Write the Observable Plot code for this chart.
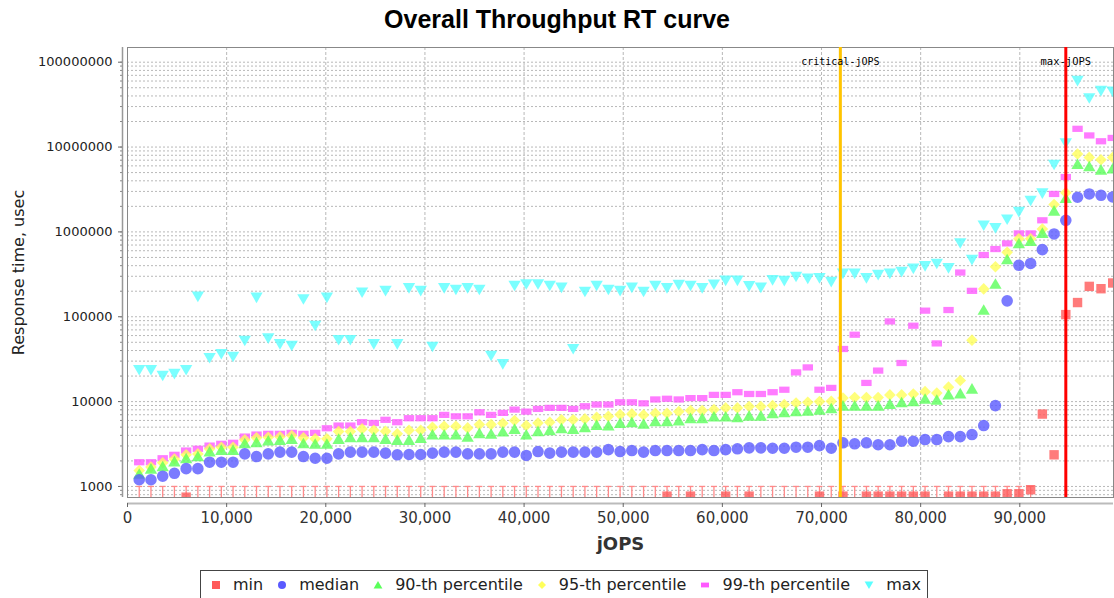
<!DOCTYPE html>
<html><head><meta charset="utf-8">
<script src="https://cdn.jsdelivr.net/npm/d3@7"></script>
<script src="https://cdn.jsdelivr.net/npm/@observablehq/plot@0.6"></script>
<style>
body{margin:0;background:#fff;font-family:"DejaVu Sans",sans-serif;width:1114px;overflow:hidden;}
#title{height:40px;box-sizing:border-box;padding-top:5px;line-height:30px;text-align:center;font:bold 25px "Liberation Sans",Arial,sans-serif;color:#000;}
#legendWrap{display:flex;justify-content:center;margin-top:5px;padding-left:14px;}
#legend{border:1px solid #444;padding:4px 6px 6px 9px;display:flex;align-items:center;font:16px "DejaVu Sans",sans-serif;color:#222;white-space:nowrap;}
#legend .item{display:flex;align-items:center;}
#legend .item + .item{margin-left:13px;}
#legend svg{margin-right:11px;}
</style></head><body>
<div id="title">Overall Throughput RT curve</div>
<div id="chart"></div>
<div id="legendWrap"><div id="legend"></div></div>
<script>
const jops = [1183,2366,3549,4732,5915,7098,8281,9464,10647,11830,13013,14196,15379,16562,17745,18928,20111,21294,22477,23660,24843,26026,27209,28392,29575,30758,31941,33124,34307,35490,36673,37856,39039,40222,41405,42588,43771,44954,46137,47320,48503,49686,50869,52052,53235,54418,55601,56784,57967,59150,60333,61516,62699,63882,65065,66248,67431,68614,69797,70980,72163,73346,74529,75712,76895,78078,79261,80444,81627,82810,83993,85176,86359,87542,88725,89908,91091,92274,93457,94640,95823,97006,98189,99372];

const minRT = [500,500,500,500,748,500,500,500,500,500,500,500,500,500,500,500,500,500,500,500,500,500,500,500,500,500,500,500,500,500,500,500,500,500,500,500,500,500,500,500,500,500,500,500,500,769,500,769,500,500,769,500,769,500,500,500,500,500,769,500,769,500,769,769,769,769,769,769,500,769,769,769,769,769,820,820,915,7130,2360,106000,147000,228000,214000,250000];

const medianRT = [1200,1200,1320,1430,1620,1620,1930,1930,1930,2420,2250,2420,2540,2540,2250,2150,2150,2420,2540,2540,2540,2470,2360,2380,2380,2470,2540,2540,2420,2420,2420,2540,2540,2320,2580,2470,2540,2540,2540,2540,2720,2580,2650,2540,2650,2650,2650,2650,2720,2650,2720,2780,2850,2850,2820,2820,2900,2900,3030,2820,3270,3180,3270,3100,3100,3410,3410,3570,3570,3870,3870,4090,5220,8970,154000,404000,425000,619000,946000,1370000,2560000,2800000,2700000,2580000];

const p90RT = [1410,1620,1730,1970,2150,2270,2580,2700,2700,3230,3330,3480,3540,3640,3230,3180,3180,3640,3800,3800,3800,3640,3540,3540,3740,4090,4090,4090,3870,4240,4170,4440,4770,4090,4480,4600,4850,4770,4990,5320,5220,5610,5720,5470,5860,5860,5980,6370,6370,6670,6670,6540,6840,6840,7290,7480,7690,7830,8050,8340,8970,8970,8970,8970,9400,9820,10100,10800,10500,12100,12500,14200,121000,245000,475000,735000,780000,973000,1780000,2510000,6310000,5930000,5410000,5600000];

const p95RT = [1540,1690,1900,2110,2360,2420,2770,2900,2900,3540,3740,3800,3850,3980,3740,3640,3640,4440,4440,4770,4600,4480,4170,4600,4600,4990,5130,5130,4900,5360,5360,5560,5980,5220,5600,5720,6100,6100,6250,6540,6700,7030,7160,6970,7290,7290,7620,7830,7830,8050,8430,8430,8740,8740,8970,9230,9640,9820,10000,10100,11000,11200,11200,11200,12000,12000,12300,13100,12600,14800,17700,53000,213000,389000,574000,830000,830000,1080000,2100000,2900000,8270000,7550000,7090000,7550000];

const p99RT = [1930,1930,2150,2360,2650,2780,3030,3180,3270,3870,4090,4170,4170,4280,4170,4280,4850,5220,5220,5720,5600,6100,5720,6370,6370,6370,6970,6710,6710,7480,6970,7360,8050,7620,8200,8430,8430,8200,8820,9230,9230,9820,9820,9550,10600,10800,10600,11000,11000,12000,12000,12900,12300,12300,12900,13800,22100,25300,13800,14500,41700,61400,16600,23200,88100,28500,78400,118000,48500,120000,332000,202000,534000,628000,732000,960000,960000,1370000,2800000,4430000,16400000,13700000,11700000,12800000];

const maxRT = [23600,23600,20200,21200,23600,173000,32700,36400,33800,52200,168000,55600,47700,45600,161000,78400,168000,53200,53200,193000,47700,202000,47700,218000,202000,44400,218000,208000,218000,208000,34700,27700,232000,242000,242000,232000,221000,41700,197000,232000,208000,202000,221000,197000,232000,218000,238000,232000,218000,240000,267000,267000,230000,221000,270000,265000,296000,282000,285000,258000,323000,323000,285000,312000,322000,338000,370000,396000,422000,374000,735000,468000,1190000,1110000,1400000,1720000,2330000,2850000,6190000,11100000,60300000,37600000,45900000,45000000];

const seriesNames = ["min","median","90-th percentile","95-th percentile","99-th percentile","max"];
const seriesColors = ["#ff5a5a","#5a5aff","#5aff5a","#ffff5a","#ff5aff","#5affff"];
const xTicks = [0,10000,20000,30000,40000,50000,60000,70000,80000,90000];
const yTicks = [1000,10000,100000,1000000,10000000,100000000];
const xDomain = [0, 99450];
const yDomain = [741, 1.49e8];
const criticalJOPS = 71900;
const maxJOPS = 94640;
const minThreshold = 1000;

const rad = s => Math.sqrt(s / Math.PI);
const sym = {
  square: {draw(c, s){const r = rad(s); c.rect(-r, -r, 2*r, 2*r);}},
  circle: {draw(c, s){const r = rad(s); c.moveTo(r,0); c.arc(0,0,r,0,2*Math.PI);}},
  triUp: {draw(c, s){const r = rad(s); c.moveTo(0,-r); c.lineTo(r*1.1, r*0.9); c.lineTo(-r*1.1, r*0.9); c.closePath();}},
  diamond: {draw(c, s){const r = rad(s); c.moveTo(0,-r); c.lineTo(r,0); c.lineTo(0,r); c.lineTo(-r,0); c.closePath();}},
  hrect: {draw(c, s){const r = rad(s); c.rect(-r, -r*0.6, 2*r, 1.2*r);}},
  triDown: {draw(c, s){const r = rad(s); c.moveTo(0,r); c.lineTo(r*1.1, -r*0.9); c.lineTo(-r*1.1, -r*0.9); c.closePath();}},
  cap: {draw(c, s){const r = rad(s); c.moveTo(-r,0); c.lineTo(r,0);}}
};
const seriesSymbols = [sym.square, sym.circle, sym.triUp, sym.diamond, sym.hrect, sym.triDown];
const seriesR = [4.7, 5.8, 5.6, 5.8, 5.2, 5.6];
const seriesValues = [minRT, medianRT, p90RT, p95RT, p99RT, maxRT];

const toRows = vals => jops.map((x, i) => ({jops: x, rt: vals[i]}));
const minorTicks = d3.scaleLog().domain(yDomain).ticks();

const dotMarks = [];
for (let s = seriesValues.length - 1; s >= 0; s--) {
  dotMarks.push(Plot.dot(toRows(seriesValues[s]), {
    x: "jops", y: "rt", symbol: seriesSymbols[s], r: seriesR[s],
    fill: seriesColors[s], fillOpacity: 0.8, clip: true
  }));
}
const minLow = toRows(minRT).filter(d => d.rt < minThreshold);

const chart = Plot.plot({
  width: 1114, height: 525,
  marginLeft: 127, marginRight: 1, marginTop: 7, marginBottom: 68,
  style: {fontFamily: "DejaVu Sans, sans-serif", fontSize: "13px", color: "#222", background: "#fff"},
  x: {domain: xDomain, axis: null, label: null},
  y: {type: "log", domain: yDomain, axis: null, label: null},
  marks: [
    Plot.gridY(minorTicks, {stroke: "#b8b8b8", strokeOpacity: 1, strokeDasharray: "2,2"}),
    Plot.gridX(xTicks, {stroke: "#b8b8b8", strokeOpacity: 1, strokeDasharray: "3,2"}),
    Plot.frame({stroke: "#888"}),
    Plot.ruleX([xDomain[0]], {dx: -5, stroke: "#999", strokeWidth: 1.5}),
    Plot.axisY(yTicks, {tickFormat: d => String(d), dx: -5, tickSize: 4, tickPadding: 6, fontSize: 13, stroke: "#666", fill: "#222", label: null}),
    Plot.axisY(minorTicks, {tickFormat: () => "", dx: -5, tickSize: 2, stroke: "#888", label: null}),
    Plot.ruleY([yDomain[0]], {dy: 6, stroke: "#bbb", strokeWidth: 2}),
    Plot.axisX(xTicks, {tickFormat: d3.format(","), dy: 6, tickSize: 4, tickPadding: 5, fontSize: 15, stroke: "#666", fill: "#333", label: null}),
    Plot.ruleX(minLow, {x: "jops", y1: yDomain[0], y2: minThreshold, stroke: "#ff8a8a", strokeWidth: 1.3}),
    Plot.dot(minLow, {x: "jops", y: () => minThreshold, symbol: sym.cap, r: 3, stroke: "#ff8a8a", strokeWidth: 1.3}),
    ...dotMarks,
    Plot.ruleX([criticalJOPS], {stroke: "#ffc400", strokeWidth: 3}),
    Plot.ruleX([maxJOPS], {stroke: "#ff0000", strokeWidth: 3}),
    Plot.text([criticalJOPS], {x: d => d, frameAnchor: "top", dy: 10, text: () => "critical-jOPS", fontFamily: "DejaVu Sans Mono, monospace", fontSize: 10, fill: "#000"}),
    Plot.text([maxJOPS], {x: d => d, frameAnchor: "top", dy: 10, text: () => "max-jOPS", fontFamily: "DejaVu Sans Mono, monospace", fontSize: 10.5, fill: "#000", letterSpacing: "0.5px"}),
    Plot.text(["Response time, usec"], {frameAnchor: "left", rotate: -90, textAnchor: "middle", dx: -109, text: d => d, fontSize: 16, fill: "#222"}),
    Plot.text(["jOPS"], {frameAnchor: "bottom", dy: 52, text: d => d, fontSize: 18, fontWeight: "bold", fill: "#333"})
  ]
});
document.getElementById("chart").appendChild(chart);

const legend = document.getElementById("legend");
seriesNames.forEach((name, i) => {
  const item = document.createElement("div");
  item.className = "item";
  const p = d3.path();
  seriesSymbols[i].draw(p, Math.PI * 16);
  item.innerHTML = `<svg width="12" height="14" viewBox="-6 -7 12 14"><path d="${p.toString()}" fill="${seriesColors[i]}"/></svg><span>${name}</span>`;
  legend.appendChild(item);
});
</script>
</body></html>
